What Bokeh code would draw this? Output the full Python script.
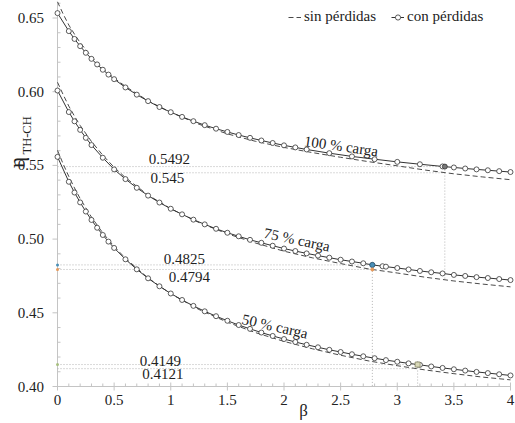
from bokeh.plotting import figure
from bokeh.models import Range1d, Legend, LegendItem
from bokeh.core.properties import value
from bokeh.embed import file_html
from bokeh.resources import INLINE

# ---------------- data ----------------
x_ticks = [0, 0.5, 1, 1.5, 2, 2.5, 3, 3.5, 4]
x_tick_labels = ["0", "0.5", "1", "1.5", "2", "2.5", "3", "3.5", "4"]
y_ticks = [0.40, 0.45, 0.50, 0.55, 0.60, 0.65]
y_tick_labels = ["0.40", "0.45", "0.50", "0.55", "0.60", "0.65"]
x_minor = [i / 10 for i in range(41) if i % 5]
y_minor = [round(0.40 + i / 100, 2) for i in range(27) if i % 5]

# sin pérdidas (dashed)
beta_sin = [0, 0.05, 0.1, 0.15, 0.2, 0.3, 0.4, 0.5, 0.6, 0.8, 1.0, 1.25, 1.5,
            1.75, 2.0, 2.25, 2.5, 2.75, 3.0, 3.25, 3.5, 3.75, 4.0]
eta100_sin = [0.6610, 0.6527, 0.6452, 0.6390, 0.6333, 0.6237, 0.6158, 0.6093, 0.6036,
              0.5938, 0.5860, 0.5779, 0.5714, 0.5663, 0.5622, 0.5587, 0.5555, 0.5525,
              0.5497, 0.5468, 0.5443, 0.5422, 0.5403]
eta75_sin = [0.6064, 0.5980, 0.5902, 0.5834, 0.5771, 0.5662, 0.5569, 0.5487, 0.5417,
             0.5299, 0.5206, 0.5112, 0.5036, 0.4973, 0.4918, 0.4873, 0.4834, 0.4797,
             0.4770, 0.4741, 0.4716, 0.4695, 0.4676]
eta50_sin = [0.5602, 0.5510, 0.5425, 0.5347, 0.5275, 0.5149, 0.5042, 0.4950, 0.4870,
             0.4736, 0.4629, 0.4522, 0.4436, 0.4365, 0.4306, 0.4256, 0.4212, 0.4173,
             0.4141, 0.4112, 0.4087, 0.4064, 0.4045]

# con pérdidas (solid + markers)
beta100_con = [0, 0.1, 0.15, 0.2, 0.25, 0.3, 0.35, 0.4, 0.45, 0.5, 0.6, 0.7, 0.8, 0.9,
               1.0, 1.1, 1.2, 1.3, 1.4, 1.5, 1.6, 1.7, 1.8, 1.9, 2.0, 2.1, 2.2, 2.4, 2.6,
               2.8, 3.0, 3.2, 3.4, 3.5, 3.6, 3.7, 3.8, 3.9, 4.0]
eta100_con = [0.6533, 0.6411, 0.6358, 0.6309, 0.6264, 0.6223, 0.6185, 0.6149, 0.6116,
              0.6085, 0.6029, 0.5980, 0.5936, 0.5896, 0.5861, 0.5829, 0.5800, 0.5773,
              0.5749, 0.5727, 0.5706, 0.5687, 0.5669, 0.5652, 0.5636, 0.5622, 0.5608,
              0.5583, 0.5561, 0.5542, 0.5524, 0.5508, 0.5493, 0.5486, 0.5479, 0.5473,
              0.5467, 0.5461, 0.5455]

beta75_con = [0, 0.1, 0.15, 0.2, 0.25, 0.3, 0.4, 0.5, 0.6, 0.7, 0.8, 0.9, 1.0, 1.1, 1.2,
              1.3, 1.4, 1.5, 1.6, 1.7, 1.8, 1.9, 2.0, 2.1, 2.2, 2.3, 2.4, 2.5, 2.6, 2.7,
              2.78, 2.87, 2.9, 3.0, 3.1, 3.2, 3.3, 3.4, 3.5, 3.6, 3.7, 3.8, 3.9, 4.0]
eta75_con = [0.6008, 0.5862, 0.5799, 0.5741, 0.5687, 0.5638, 0.5552, 0.5473, 0.5407,
             0.5348, 0.5295, 0.5248, 0.5206, 0.5168, 0.5132, 0.5100, 0.5070, 0.5043,
             0.5019, 0.4995, 0.4975, 0.4955, 0.4936, 0.4919, 0.4903, 0.4888, 0.4874,
             0.4860, 0.4848, 0.4836, 0.4825, 0.4816, 0.4813, 0.4804, 0.4794, 0.4784,
             0.4775, 0.4767, 0.4757, 0.4750, 0.4742, 0.4736, 0.4729, 0.4722]

beta50_con = [0, 0.1, 0.15, 0.2, 0.25, 0.3, 0.35, 0.4, 0.45, 0.5, 0.6, 0.7, 0.8, 0.9,
              1.0, 1.1, 1.2, 1.3, 1.4, 1.5, 1.6, 1.7, 1.8, 1.9, 2.0, 2.1, 2.2, 2.3, 2.4,
              2.5, 2.6, 2.7, 2.8, 2.9, 3.0, 3.1, 3.18, 3.2, 3.3, 3.4, 3.5, 3.6, 3.7, 3.8,
              3.9, 4.0]
eta50_con = [0.5558, 0.5389, 0.5316, 0.5249, 0.5187, 0.5130, 0.5077, 0.5028, 0.4983,
             0.4940, 0.4863, 0.4795, 0.4734, 0.4680, 0.4631, 0.4587, 0.4547, 0.4510,
             0.4477, 0.4446, 0.4417, 0.4391, 0.4366, 0.4343, 0.4322, 0.4302, 0.4283,
             0.4266, 0.4249, 0.4234, 0.4219, 0.4205, 0.4192, 0.4179, 0.4168, 0.4157,
             0.4149, 0.4147, 0.4136, 0.4126, 0.4117, 0.4108, 0.4099, 0.4091, 0.4083,
             0.4075]

# reference readings (100 %, 75 %, 50 % carga)
ref_beta = [3.42, 2.78, 3.18]
ref_con = [0.5492, 0.4825, 0.4149]
ref_sin = [0.545, 0.4794, 0.4121]
ref_vline_bottom = [0.4722, 0.40, 0.40]
curve_labels = ["100 % carga", "75 % carga", "50 % carga"]

# ---------------- layout (pixels -> data) ----------------
W, H = 515, 423
X0_PX, XSCALE = 57.0, 113.25      # beta = 0 at px 57, px per beta unit
Y0_PX, YSCALE = 386.0, 1474.0     # eta = 0.40 at px 386, px per eta unit


def bx(px):
    return (px - X0_PX) / XSCALE


def ey(py):
    return 0.40 + (Y0_PX - py) / YSCALE


FONT = value("Liberation Serif")
INK = "#222222"
AXC = "#c4c4c4"

p = figure(width=W, height=H, output_backend="svg", toolbar_location=None,
           x_range=Range1d(bx(0), bx(W)), y_range=Range1d(ey(H), ey(0)),
           x_axis_type=None, y_axis_type=None,
           min_border_left=0, min_border_right=0, min_border_top=0, min_border_bottom=0)
p.outline_line_color = None
p.grid.visible = False
p.background_fill_color = "white"
p.border_fill_color = "white"

# ---- axes drawn by hand ----
y_top = ey(2)
p.segment(x0=[0], y0=[y_ticks[0]], x1=[0], y1=[y_top], line_color=AXC, line_width=1)
p.segment(x0=[x_ticks[0]], y0=[y_ticks[0]], x1=[x_ticks[-1]], y1=[y_ticks[0]],
          line_color=AXC, line_width=1)
# y ticks
p.segment(x0=[bx(52)] * len(y_ticks), y0=y_ticks, x1=[0] * len(y_ticks), y1=y_ticks,
          line_color=AXC, line_width=1)
p.segment(x0=[0] * len(y_minor), y0=y_minor, x1=[bx(60)] * len(y_minor), y1=y_minor,
          line_color=AXC, line_width=1)
# x ticks
p.segment(x0=x_ticks, y0=[ey(390)] * len(x_ticks), x1=x_ticks, y1=[ey(382)] * len(x_ticks),
          line_color=AXC, line_width=1)
p.segment(x0=x_minor, y0=[y_ticks[0]] * len(x_minor), x1=x_minor, y1=[ey(383)] * len(x_minor),
          line_color=AXC, line_width=1)
# tick labels
p.text(x=[bx(43.5)] * len(y_ticks), y=y_ticks, text=y_tick_labels, text_font=FONT,
       text_font_size="15px", text_color=INK, text_align="right", text_baseline="middle")
p.text(x=x_ticks, y=[ey(399.5)] * len(x_ticks), text=x_tick_labels, text_font=FONT,
       text_font_size="15px", text_color=INK, text_align="center", text_baseline="middle")
# axis titles
p.text(x=[bx(303)], y=[ey(410)], text=["β"], text_font=FONT, text_font_size="17px",
       text_color=INK, text_align="center", text_baseline="middle")
p.text(x=[bx(16.5)], y=[ey(162)], text=["η"], angle=90, angle_units="deg", text_font=FONT,
       text_font_size="21px", text_color=INK, text_align="center", text_baseline="middle")
p.text(x=[bx(26.5)], y=[ey(154)], text=["TH-CH"], angle=90, angle_units="deg",
       text_font=FONT, text_font_size="12.5px", text_color=INK, text_align="left",
       text_baseline="middle")

# ---- dotted reference lines ----
REF = "#b4b4b4"
p.segment(x0=[0] * 3, y0=ref_con, x1=ref_beta, y1=ref_con,
          line_color=REF, line_dash="1 2", line_width=1)
p.segment(x0=[0] * 3, y0=ref_sin, x1=ref_beta, y1=ref_sin,
          line_color=REF, line_dash="1 2", line_width=1)
p.segment(x0=ref_beta, y0=ref_con, x1=ref_beta, y1=ref_vline_bottom,
          line_color=REF, line_dash="1 2", line_width=1)

# ---- curves ----
DASH = "#4a4a4a"
SOLID = "#333333"
dash_r = line_r = mark_r = None
for bs, es, bc, ec in [(beta_sin, eta100_sin, beta100_con, eta100_con),
                       (beta_sin, eta75_sin, beta75_con, eta75_con),
                       (beta_sin, eta50_sin, beta50_con, eta50_con)]:
    d = p.line(bs, es, line_color=DASH, line_width=1, line_dash="5 3")
    l = p.line(bc, ec, line_color=SOLID, line_width=1)
    m = p.scatter(bc, ec, marker="circle", size=5, fill_color="white",
                  line_color=SOLID, line_width=0.8)
    if dash_r is None:
        dash_r, line_r, mark_r = d, l, m

# highlighted intersection points
p.scatter([ref_beta[0]], [ref_con[0]], marker="circle", size=5, fill_color="#777777",
          line_color=SOLID, line_width=0.8)
p.scatter([ref_beta[1]], [ref_con[1]], marker="circle", size=5, fill_color="#4a90b8",
          line_color="#2f5f80", line_width=0.8)
p.scatter([ref_beta[1]], [ref_sin[1]], marker="circle", size=3, fill_color="#e89a5a",
          line_color="#e89a5a")
p.scatter([ref_beta[2]], [ref_con[2]], marker="square", size=5, fill_color="#d8d8b8",
          line_color="#8a8a6a", line_width=0.8)
p.scatter([0, 0], [ref_con[1], ref_sin[1]], marker="circle", size=3,
          fill_color=["#4a90b8", "#e89a5a"], line_color=None)
p.scatter([0], [ref_con[2]], marker="circle", size=3, fill_color="#a8c080", line_color=None)

# ---- value annotations ----
ann_px = [(148.3, 158.7), (150.0, 177.2), (163.3, 258.0),
          (168.3, 276.7), (139.3, 360.0), (141.7, 373.0)]
ann_vals = [ref_con[0], ref_sin[0], ref_con[1], ref_sin[1], ref_con[2], ref_sin[2]]
p.text(x=[bx(a) for a, _ in ann_px], y=[ey(b) for _, b in ann_px],
       text=[f"{v}" for v in ann_vals], text_font=FONT, text_font_size="15px",
       text_color=INK, text_align="left", text_baseline="middle")

# ---- curve labels ----
lab_px = [(303.6, 140.5, -8), (263.6, 232.3, -12), (241.7, 318.3, -13)]
for (lx, ly, ang), txt in zip(lab_px, curve_labels):
    p.text(x=[bx(lx)], y=[ey(ly)], text=[txt], angle=ang, angle_units="deg",
           text_font=FONT, text_font_size="15px", text_color=INK,
           text_align="left", text_baseline="middle")

# ---- legend ----
legend = Legend(items=[LegendItem(label="sin pérdidas", renderers=[dash_r]),
                       LegendItem(label="con pérdidas", renderers=[line_r, mark_r])],
                location=(288, 398), orientation="horizontal", padding=0, spacing=15,
                glyph_width=13, glyph_height=14, label_height=14, label_standoff=3,
                border_line_color=None, background_fill_alpha=0, margin=0,
                label_text_font="Liberation Serif", label_text_font_size="15px",
                label_text_color=INK)
p.add_layout(legend)

open("out.html", "w").write(file_html(p, INLINE))
